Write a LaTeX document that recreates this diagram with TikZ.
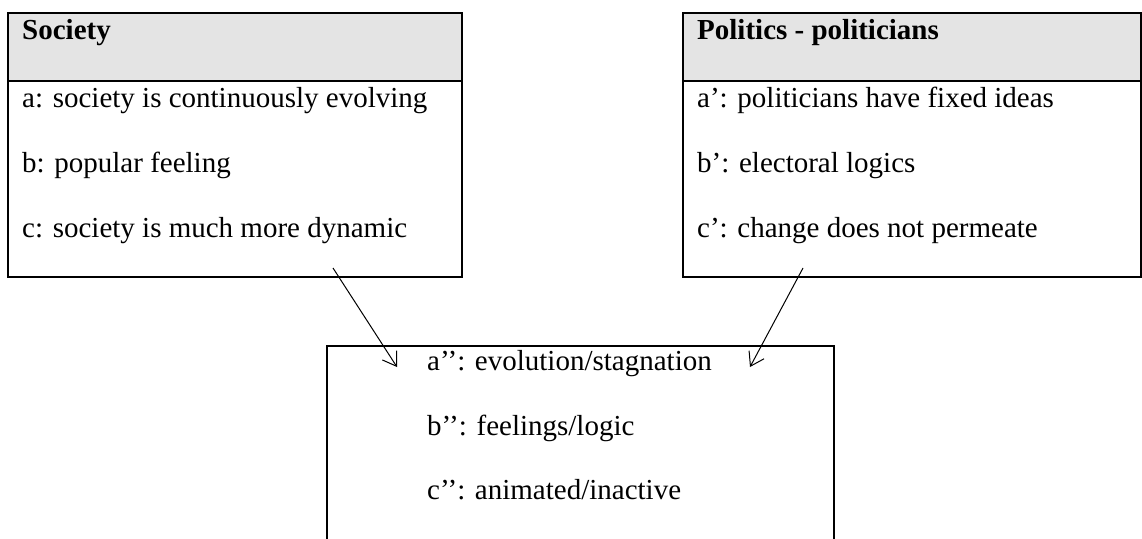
\documentclass[tikz,border=0pt]{standalone}
\usepackage{fontspec}
\setmainfont{Liberation Serif}
\usetikzlibrary{arrows.meta}
\definecolor{headgray}{RGB}{228,228,228}
\begin{document}
\begin{tikzpicture}[x=1pt,y=-1pt,
  frame/.style={draw=black, line width=1.3pt, inner sep=0pt, outer sep=0pt, anchor=north west},
  head/.style={frame, fill=headgray},
  txt/.style={inner sep=0pt, anchor=base west, font=\fontsize{29}{35}\selectfont},
  htxt/.style={txt, font=\fontsize{29}{35}\selectfont\bfseries},
  arr/.style={draw=black, line width=1pt, -{Straight Barb[length=13pt,width=17pt,line width=1pt]}}
]
\useasboundingbox (0,0) rectangle (1142,538);
\clip (0,0) rectangle (1142,538);

% left block: Society
\node[frame, minimum width=454pt, minimum height=196pt] (socbody) at (8,81) {};
\node[head,  minimum width=454pt, minimum height=68pt]  (sochead) at (8,13) {};
\node[htxt] (soct) at (22,39) {Society};
\node[txt] (soca) at (22,107) {a: society is continuously evolving};
\node[txt] (socb) at (22,172) {b: popular feeling};
\node[txt] (socc) at (22,237) {c: society is much more dynamic};

% right block: Politics
\node[frame, minimum width=458pt, minimum height=196pt] (polbody) at (683,81) {};
\node[head,  minimum width=458pt, minimum height=68pt]  (polhead) at (683,13) {};
\node[htxt] (polt) at (697,39) {Politics - politicians};
\node[txt] (pola) at (697,107) {a’: politicians have fixed ideas};
\node[txt] (polb) at (697,172) {b’: electoral logics};
\node[txt] (polc) at (697,237) {c’: change does not permeate};

% bottom block: synthesis
\node[frame, minimum width=507pt, minimum height=230pt] (syn) at (327,346) {};
\node[txt] (syna) at (427,370) {a’{}’: evolution/stagnation};
\node[txt] (synb) at (427,435) {b’{}’: feelings/logic};
\node[txt] (sync) at (427,499) {c’{}’: animated/inactive};

% connectors
\coordinate (socout) at (333,268);
\coordinate (synin1) at (397,367);
\coordinate (polout) at (803,268);
\coordinate (synin2) at (750,367);
\draw[arr] (socout) -- (synin1);
\draw[arr] (polout) -- (synin2);
\end{tikzpicture}
\end{document}
